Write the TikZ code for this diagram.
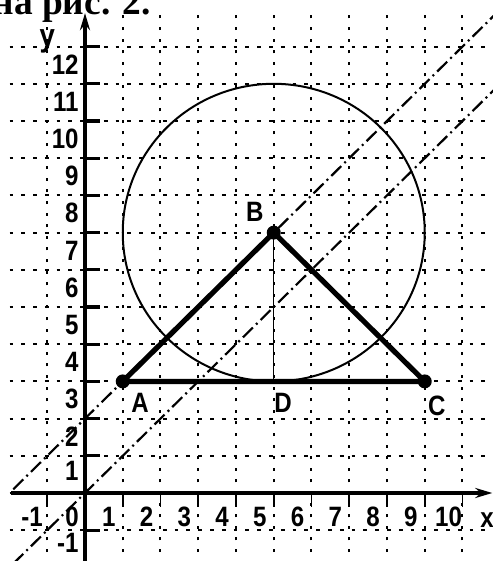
\documentclass[tikz,border=0pt]{standalone}
\usepackage{fontspec}
\newfontfamily\labfont[FakeStretch=0.86]{Liberation Sans}
\newfontfamily\titfont{Liberation Serif}
\usetikzlibrary{arrows.meta,shapes.geometric}
\tikzset{
  gridh/.style={line width=1pt, dash pattern=on 1.9pt off 4pt},
  gridv/.style={line width=1pt, dash pattern=on 1.5pt off 4.3pt},
  axisline/.style={line width=2pt, -{Stealth[length=8.5pt,width=5pt]}},
  ytick/.style={line width=1.6pt},
  xtick/.style={line width=0.8pt},
  lab/.style={font=\labfont\bfseries\fontsize{14}{16}\selectfont, inner sep=0pt},
  ylab/.style={lab, anchor=east},
  dashdot/.style={line width=1.1pt, dash pattern=on 7pt off 2.2pt on 1pt off 2.2pt},
  side/.style={line width=2.6pt, line cap=round},
  thinline/.style={line width=0.6pt},
  pt/.style={circle, fill=black, inner sep=0pt, minimum width=7pt, minimum height=6pt},
}
\begin{document}
\begin{tikzpicture}[x=18.875pt, y=18.6pt]
\useasboundingbox (-2.2517,-1.828) rectangle (10.808,13.253);
\clip (-2.2517,-1.828) rectangle (10.808,13.253);
\fill[white] (-2.2517,-1.828) rectangle (10.808,13.253);
% title (cropped at the top edge, as in the reference)
\node[font=\titfont\bfseries\fontsize{18.7}{20}\selectfont, anchor=base west, inner sep=0pt] (title) at (-2.46,12.87) {на рис. 2.};
% grid
\foreach \k in {-1,...,12} {
  \draw[gridh] (-2.0,\k) -- (10.9,\k);
}
\foreach \k in {-1,1,2,...,10} {
  \draw[gridv] (\k,-1.9) -- (\k,12.9);
}
% dash-dot lines
\coordinate (L1s) at (-1.9,0.1);
\coordinate (L1e) at (10.9,12.9);
\coordinate (L2s) at (-1.9,-1.9);
\coordinate (L2e) at (10.9,10.9);
\draw[dashdot] (L1s) -- (L1e);
\draw[dashdot] (L2s) -- (L2e);
% axes
\coordinate (xs) at (-1.95,0);
\coordinate (xe) at (10.79,0);
\coordinate (ys) at (0,-1.9);
\coordinate (ye) at (0,12.9);
\draw[axisline] (xs) -- (xe);
\draw[axisline] (ys) -- (ye);
\foreach \k in {-1,1,2,...,12} {
  \draw[ytick] (0,\k) -- (0.4,\k);
}
\foreach \k in {-1,1,2,...,10} {
  \draw[xtick] (\k,0) -- (\k,-0.38);
}
% y labels
\foreach \k in {2,3,...,12} {
  \node[ylab] (y\k) at (-0.16,\k-0.48) {\k};
}
\node[ylab] (y1) at (-0.16,0.6) {1};
\node[ylab] (ym1) at (-0.16,-1.35) {-1};
% x labels
\foreach \k in {1,2,...,10} {
  \node[lab] (x\k) at (\k-0.37,-0.65) {\k};
}
\node[lab] (x0) at (-0.34,-0.65) {0};
\node[lab] (xm1) at (-1.4,-0.65) {-1};
\node[lab] (xname) at (10.65,-0.72) {x};
\node[lab, font=\labfont\bfseries\fontsize{16}{18}\selectfont] (yname) at (-1.0,12.15) {y};
% circle
\node[draw, line width=1pt, ellipse, inner sep=0pt, minimum width=151pt, minimum height=148.8pt] (circ) at (5,7) {};
% points
\node[pt] (A) at (1,3) {};
\node[pt] (B) at (5,7) {};
\node[pt] (C) at (9,3) {};
\coordinate (D) at (5,3);
\draw[thinline] (B.center) -- (D);
\draw[side] (A.center) -- (B.center) -- (C.center) -- (A.center);
\node[lab] (lA) at (1.46,2.42) {A};
\node[lab] (lB) at (4.5,7.55) {B};
\node[lab] (lC) at (9.32,2.33) {C};
\node[lab] (lD) at (5.25,2.42) {D};
\end{tikzpicture}
\end{document}
